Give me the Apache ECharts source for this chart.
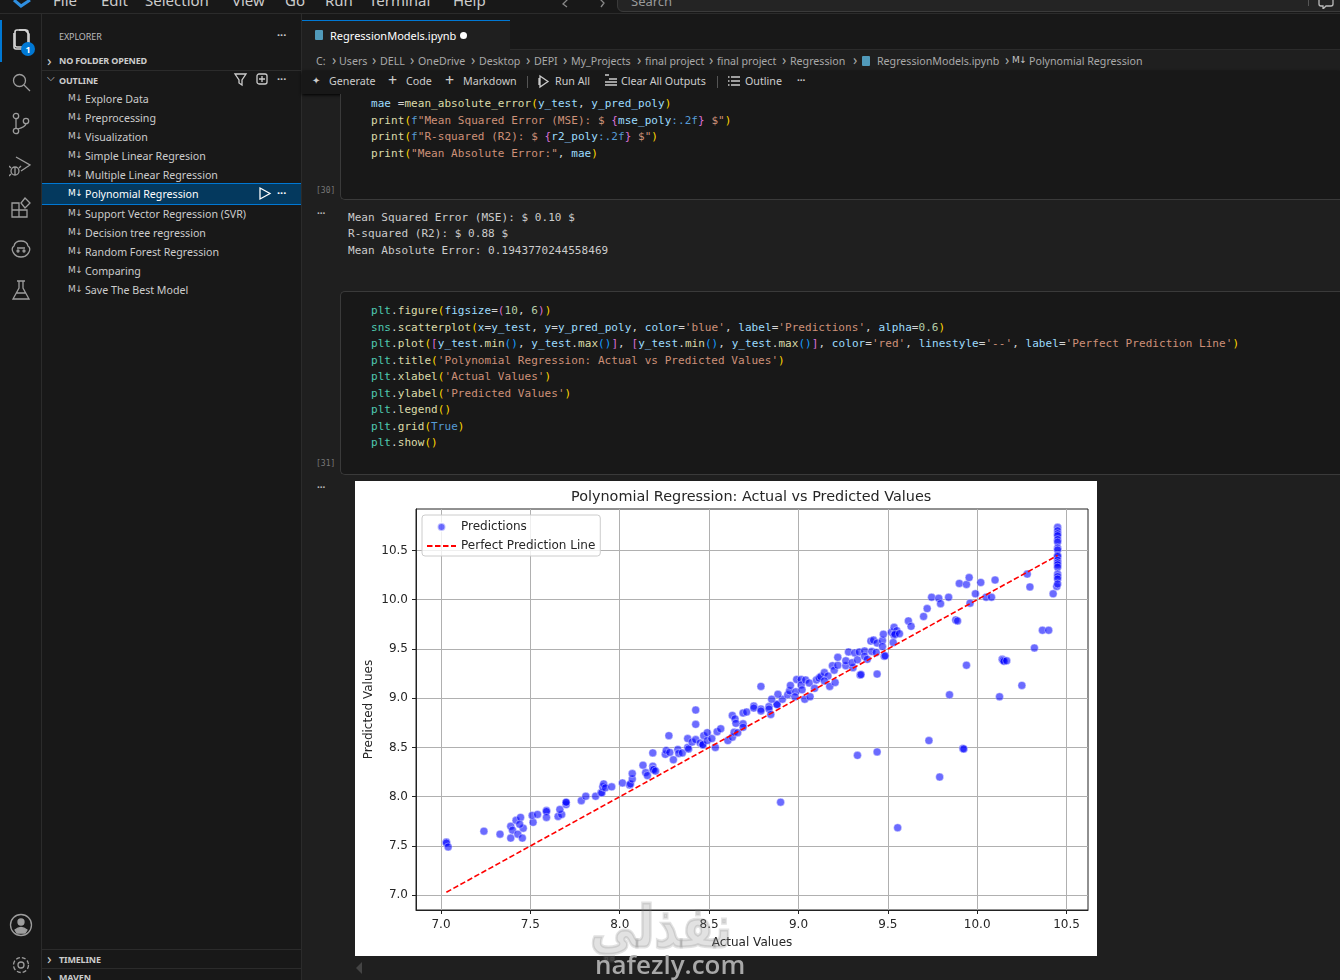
<!DOCTYPE html>
<html><head><meta charset="utf-8"><title>Polynomial Regression</title>
<script src="https://cdn.jsdelivr.net/npm/echarts@6/dist/echarts.min.js"></script>
<style>
html,body{margin:0;padding:0;width:1340px;height:980px;overflow:hidden;background:#1f1f1f;font-family:"Noto Sans",sans-serif;color:#ccc}
.a{position:absolute;white-space:pre;line-height:1}
.b{position:absolute}
.m{font-family:"DejaVu Sans Mono",monospace;font-size:11px;letter-spacing:.05px;white-space:pre;position:absolute;line-height:1}
.o{color:#d4d4d4}.t{color:#4ec9b0}.f{color:#dcdcaa}.v{color:#9cdcfe}.s{color:#ce9178}.g{color:#ffd700}.p{color:#da70d6}.u{color:#179fff}.k{color:#569cd6}.n{color:#b5cea8}
i{font-style:normal}
#chart{position:absolute;left:355px;top:481px;width:742px;height:475px;background:#fff;filter:blur(.35px)}
</style></head><body>
<div id="chrome"></div>
<div id="chart"></div>
<div class="a" style="left:590px;top:882px;font:bold 58px 'DejaVu Sans';-webkit-text-stroke:3px rgba(125,125,125,.22);color:rgba(125,125,125,.22);direction:rtl;line-height:90px;transform:scaleX(.8);transform-origin:0 0;z-index:5">نفذلي</div>
<div class="a" style="left:595px;top:950px;font:600 26px 'Open Sans';color:#a8a8a8;z-index:5;line-height:28px">nafezly.com</div>
<script>
// ---- chart data ----
const chartTitle = 'Polynomial Regression: Actual vs Predicted Values';
const xName = 'Actual Values';
const yName = 'Predicted Values';
const seriesNames = ['Predictions', 'Perfect Prediction Line'];
const xTicks = [7.0, 7.5, 8.0, 8.5, 9.0, 9.5, 10.0, 10.5];
const yTicks = [7.0, 7.5, 8.0, 8.5, 9.0, 9.5, 10.0, 10.5];
const perfectLine = [[7.03, 7.03], [10.45, 10.45]];
const actual = [
7.03,7.03,7.04,7.24,7.33,7.39,7.40,7.39,7.43,7.455,7.46,7.42,7.445,7.44,7.515,7.51,7.54,7.59,7.59,7.59,
7.655,7.675,7.665,7.70,7.70,7.70,7.785,7.81,7.865,7.895,7.90,7.905,7.91,7.92,7.955,8.015,8.055,8.06,8.07,8.07,
8.13,8.145,8.155,8.185,8.185,8.19,8.20,8.185,8.255,8.26,8.28,8.30,8.275,8.325,8.33,8.35,8.38,8.38,8.385,8.405,
8.425,8.425,8.425,8.45,8.465,8.465,8.47,8.49,8.49,8.515,8.535,8.545,8.565,8.605,8.63,8.64,8.63,8.645,8.65,8.66,
8.69,8.69,8.69,8.71,8.75,8.75,8.79,8.79,8.835,8.835,8.845,8.88,8.88,8.90,
8.79,8.91,8.885,8.85,8.94,8.95,8.955,8.985,8.98,8.99,9.015,9.015,9.02,9.035,9.04,9.06,9.065,9.09,9.10,9.115,
9.125,9.145,9.165,9.145,9.175,9.205,9.19,9.20,9.22,9.22,9.265,9.265,9.305,9.30,9.28,9.315,9.33,9.34,9.345,9.35,
9.44,9.37,9.37,9.385,9.41,9.435,9.405,9.42,9.44,9.47,9.475,9.47,9.48,9.485,9.52,9.535,9.55,9.535,9.54,9.565,
9.53,9.615,9.63,9.70,9.72,9.745,9.785,9.795,9.84,9.88,9.89,9.90,9.94,9.955,9.96,9.99,10.02,10.05,10.08,10.10,
10.28,10.295,10.425,10.445,
10.45,10.45,10.45,10.45,10.45,10.45,10.45,10.45,10.45,10.45,10.45,10.45,10.45,10.45,10.45,10.45,10.45,10.45,
9.845,10.125,10.25,9.94,10.14,10.145,10.15,10.165,10.32,10.365,10.40,9.33,9.44,9.73,9.79,9.555,9.92,9.925
];
const predicted = [
7.54,7.53,7.49,7.65,7.62,7.70,7.66,7.58,7.62,7.58,7.68,7.76,7.79,7.72,7.74,7.81,7.82,7.86,7.85,7.79,
7.80,7.82,7.87,7.92,7.94,7.945,7.96,8.005,8.005,8.04,8.04,8.10,8.13,8.09,8.10,8.14,8.12,8.13,8.18,8.235,
8.32,8.245,8.215,8.31,8.28,8.275,8.26,8.445,8.43,8.47,8.45,8.375,8.62,8.48,8.44,8.445,8.59,8.50,8.485,8.555,
8.58,8.735,8.88,8.545,8.525,8.53,8.62,8.57,8.65,8.59,8.50,8.66,8.69,8.57,8.605,8.655,8.825,8.79,8.745,8.65,
8.74,8.705,8.85,8.86,8.92,8.90,8.89,8.87,8.915,8.89,8.835,8.94,8.935,7.945,
9.12,8.99,9.04,8.99,9.035,9.075,9.13,9.065,9.015,9.19,9.19,9.135,9.085,8.99,9.185,9.155,9.015,9.10,9.185,9.205,
9.22,9.26,9.225,9.175,9.12,9.16,9.33,9.285,9.335,9.415,9.33,9.38,9.31,9.36,9.47,9.46,9.39,9.47,9.235,9.24,
9.245,9.48,9.425,9.395,9.475,9.465,9.58,9.59,9.56,9.585,9.65,9.525,9.425,9.43,9.67,9.72,9.685,9.64,9.65,9.655,
9.565,9.785,9.73,9.83,9.91,10.025,10.015,9.96,10.025,9.795,9.785,10.165,10.155,10.225,9.965,10.06,10.175,10.025,10.025,10.20,
10.26,10.13,10.06,10.135,
10.735,10.70,10.67,10.65,10.61,10.585,10.525,10.505,10.45,10.44,10.40,10.375,10.355,10.33,10.26,10.235,10.21,10.16,
9.035,9.015,9.13,9.335,9.395,9.385,9.375,9.38,9.51,9.69,9.69,8.42,8.455,8.57,8.20,7.685,8.49,8.485
];

// ---- surrounding editor window text ----
const menuItems = [['File',53],['Edit',101],['Selection',145],['View',232],['Go',285],['Run',325],['Terminal',369],['Help',453]];
const outlineItems = ['Explore Data','Preprocessing','Visualization','Simple Linear Regresion','Multiple Linear Regression','Polynomial Regression','Support Vector Regression (SVR)','Decision tree regression','Random Forest Regression','Comparing','Save The Best Model'];
const outlineY = [99,118,137,156,175,194,214,233,252,271,290];
const crumbs = [['C:',316],['Users',339],['DELL',380],['OneDrive',418],['Desktop',479],['DEPI',534],['My_Projects',571],['final project',645],['final project',717],['Regression',790],['RegressionModels.ipynb',877],['Polynomial Regression',1029]];
const crumbArrows = [332,372,410,471,526,563,637,709,782,853,1005];
const tools = [['Generate',329],['Code',406],['Markdown',463],['Run All',555],['Clear All Outputs',621],['Outline',745]];
const code1 = [
 ['<i class=v>mae</i> <i class=o>=</i><i class=f>mean_absolute_error</i><i class=g>(</i><i class=v>y_test</i><i class=o>,</i> <i class=v>y_pred_poly</i><i class=g>)</i>',103],
 ['<i class=f>print</i><i class=g>(</i><i class=k>f</i><i class=s>"Mean Squared Error (MSE): $ </i><i class=p>{</i><i class=v>mse_poly</i><i class=k>:.2f</i><i class=p>}</i><i class=s> $"</i><i class=g>)</i>',120],
 ['<i class=f>print</i><i class=g>(</i><i class=k>f</i><i class=s>"R-squared (R2): $ </i><i class=p>{</i><i class=v>r2_poly</i><i class=k>:.2f</i><i class=p>}</i><i class=s> $"</i><i class=g>)</i>',136],
 ['<i class=f>print</i><i class=g>(</i><i class=s>"Mean Absolute Error:"</i><i class=o>,</i> <i class=v>mae</i><i class=g>)</i>',153]];
const out1 = [['Mean Squared Error (MSE): $ 0.10 $',217],['R-squared (R2): $ 0.88 $',233],['Mean Absolute Error: 0.1943770244558469',250]];
const code2 = [
 ['<i class=t>plt</i><i class=o>.</i><i class=f>figure</i><i class=g>(</i><i class=v>figsize</i><i class=o>=</i><i class=p>(</i><i class=n>10</i><i class=o>,</i> <i class=n>6</i><i class=p>)</i><i class=g>)</i>',310],
 ['<i class=t>sns</i><i class=o>.</i><i class=f>scatterplot</i><i class=g>(</i><i class=v>x</i><i class=o>=</i><i class=v>y_test</i><i class=o>,</i> <i class=v>y</i><i class=o>=</i><i class=v>y_pred_poly</i><i class=o>,</i> <i class=v>color</i><i class=o>=</i><i class=s>\'blue\'</i><i class=o>,</i> <i class=v>label</i><i class=o>=</i><i class=s>\'Predictions\'</i><i class=o>,</i> <i class=v>alpha</i><i class=o>=</i><i class=n>0.6</i><i class=g>)</i>',327],
 ['<i class=t>plt</i><i class=o>.</i><i class=f>plot</i><i class=g>(</i><i class=p>[</i><i class=v>y_test</i><i class=o>.</i><i class=f>min</i><i class=u>()</i><i class=o>,</i> <i class=v>y_test</i><i class=o>.</i><i class=f>max</i><i class=u>()</i><i class=p>]</i><i class=o>,</i> <i class=p>[</i><i class=v>y_test</i><i class=o>.</i><i class=f>min</i><i class=u>()</i><i class=o>,</i> <i class=v>y_test</i><i class=o>.</i><i class=f>max</i><i class=u>()</i><i class=p>]</i><i class=o>,</i> <i class=v>color</i><i class=o>=</i><i class=s>\'red\'</i><i class=o>,</i> <i class=v>linestyle</i><i class=o>=</i><i class=s>\'--\'</i><i class=o>,</i> <i class=v>label</i><i class=o>=</i><i class=s>\'Perfect Prediction Line\'</i><i class=g>)</i>',343],
 ['<i class=t>plt</i><i class=o>.</i><i class=f>title</i><i class=g>(</i><i class=s>\'Polynomial Regression: Actual vs Predicted Values\'</i><i class=g>)</i>',360],
 ['<i class=t>plt</i><i class=o>.</i><i class=f>xlabel</i><i class=g>(</i><i class=s>\'Actual Values\'</i><i class=g>)</i>',376],
 ['<i class=t>plt</i><i class=o>.</i><i class=f>ylabel</i><i class=g>(</i><i class=s>\'Predicted Values\'</i><i class=g>)</i>',393],
 ['<i class=t>plt</i><i class=o>.</i><i class=f>legend</i><i class=g>()</i>',409],
 ['<i class=t>plt</i><i class=o>.</i><i class=f>grid</i><i class=g>(</i><i class=k>True</i><i class=g>)</i>',426],
 ['<i class=t>plt</i><i class=o>.</i><i class=f>show</i><i class=g>()</i>',442]];

// ---- build the window around the chart ----
const parts = [];
const box = (x,y,w,h,st) => parts.push(`<div class="b" style="left:${x}px;top:${y}px;width:${w}px;height:${h}px;${st||''}"></div>`);
const txt = (x,y,s,st) => parts.push(`<div class="a" style="left:${x}px;top:${y}px;transform:translateY(-50%);${st||''}">${s}</div>`);
const mono = (x,y,s,st) => parts.push(`<div class="m" style="left:${x}px;top:${y}px;transform:translateY(-50%);${st||''}">${s}</div>`);
const svg = (x,y,w,h,inner,st) => parts.push(`<svg class="b" style="left:${x}px;top:${y}px;${st||''}" width="${w}" height="${h}" viewBox="0 0 ${w} ${h}" fill="none" stroke="#9d9d9d" stroke-width="1.3">${inner}</svg>`);

box(0,0,1340,13,'background:#181818');
box(0,13,1340,1,'background:#2b2b2b');
menuItems.forEach(m => txt(m[1],0,m[0],'font-size:15px;color:#ccc'));
svg(12,0,22,8,'<path d="M2 0 L9 6 L18 0 L18 0" stroke="#2f8fe0" stroke-width="3"/>');
svg(556,0,50,8,'<path d="M12 -1 L7 4 L11 7 M44 -1 L48 3 L45 7" stroke="#888"/>');
box(617,-10,760,22,'background:#242424;border:1px solid #3a3a3a;border-radius:6px;box-sizing:border-box');
txt(631,1,'Search','font-size:13px;color:#9a9a9a');
box(1308,0,1,6,'background:#555');
svg(1317,0,20,9,'<path d="M2 0 L2 4 Q2 6 4 6 L6 6 L6 9 L9 6 L14 6 Q16 6 16 4 L16 0" stroke="#bbb"/>');

// activity bar + sidebar
box(0,14,41,966,'background:#181818');
box(41,14,1,966,'background:#2b2b2b');
box(42,14,260,966,'background:#181818');
box(301,14,1,966,'background:#2b2b2b');
box(0,20,2,42,'background:#0078d4');
svg(11,28,20,24,'<path d="M8 2 h6 l4 4 v12 h-5 M3 5 v14 a2 2 0 0 0 2 2 h6" stroke="#d7d7d7" stroke-width="1.6"/><rect x="4" y="2" width="13" height="17" rx="2" stroke="#d7d7d7" stroke-width="1.6"/>');
box(21,42,14,14,'background:#0078d4;border-radius:50%');
txt(25.5,49,'1','font-size:9px;color:#fff;font-weight:700');
svg(11,72,20,22,'<circle cx="8.5" cy="8.5" r="6"/><path d="M13 13 L19 19"/>');
svg(11,112,20,24,'<circle cx="5" cy="4" r="2.7"/><circle cx="5" cy="19" r="2.7"/><circle cx="15" cy="9" r="2.7"/><path d="M5 7 V16 M15 12 Q14 15 7 17"/>');
svg(9,155,22,24,'<path d="M7 2 L21 10 L12 16"/><circle cx="6" cy="16" r="4"/><path d="M2 13 L0 11 M2 19 L0 21 M10 13 L12 11 M6 12 V20"/>');
svg(11,197,21,21,'<path d="M1 6 H8 V20 H1 Z M8 13 H16 V20 H8 M1 13 H8"/><path d="M14 1 L19 6 L14 11 L10 6 Z"/>');
svg(9,238,23,22,'<path d="M5 8 Q6 3 12 3 Q18 3 19 8 Q22 10 20 14 Q18 19 12 19 Q6 19 4 14 Q2 10 5 8 Z M8 10 H16"/><circle cx="9" cy="13" r="1"/><circle cx="15" cy="13" r="1"/>');
svg(11,280,20,21,'<path d="M6 1 H14 M8 1 V8 L2 19 H18 L12 8 V1 M5 13 H15"/>');
svg(9,913,24,24,'<circle cx="12" cy="12" r="10.5"/><circle cx="12" cy="9" r="3" fill="#9d9d9d"/><path d="M6 17 Q12 12 18 17 L16 20 H8 Z" fill="#9d9d9d"/>');
svg(11,955,20,20,'<circle cx="10" cy="10" r="3"/><circle cx="10" cy="10" r="7.5" stroke-dasharray="4 2"/>');

txt(59,36,'EXPLORER','font-size:9px;color:#bbb;letter-spacing:-.1px');
txt(277,34,'···','font-size:11px;font-weight:700;color:#ccc');
txt(47,60,'›','font-size:15px;color:#ccc');
txt(59,60,'NO FOLDER OPENED','font-size:9px;font-weight:700;color:#ccc;letter-spacing:-.15px');
box(42,70,259,1,'background:#2b2b2b');
txt(47,78,'⌵','font-size:10px;color:#ccc;font-family:\'DejaVu Sans\'');
txt(59,80,'OUTLINE','font-size:9px;font-weight:700;color:#ccc;letter-spacing:-.15px');
svg(233,72,15,15,'<path d="M2 2 H13 L9 8 V13 L6 11 V8 Z" stroke="#ccc"/>');
svg(255,72,15,15,'<rect x="2" y="2" width="10" height="10" rx="2" stroke="#ccc"/><path d="M7 4 V10 M4 7 H10" stroke="#ccc"/>');
txt(277,78,'···','font-size:11px;font-weight:700;color:#ccc');
box(42,183,259,22,'background:#04395e;border-top:1px solid #0078d4;border-bottom:1px solid #0078d4;box-sizing:border-box');
outlineItems.forEach((s,i) => {
  const sel = i === 5;
  txt(68,outlineY[i]-1,'M↓','font-size:9px;font-weight:400;color:'+(sel?'#fff':'#c5c5c5')+';letter-spacing:-.5px;font-family:\'DejaVu Sans\'');
  txt(85,outlineY[i],s,'font-size:10.65px;color:'+(sel?'#fff':'#ccc'));
});
svg(258,186,14,15,'<path d="M2 2 L12 7.5 L2 13 Z" stroke="#fff"/>');
txt(277,192,'···','font-size:11px;font-weight:700;color:#fff');
box(42,949,259,1,'background:#2b2b2b');
box(42,968,259,1,'background:#2b2b2b');
txt(47,958,'›','font-size:15px;color:#ccc');
txt(59,959,'TIMELINE','font-size:9px;font-weight:700;color:#ccc;letter-spacing:-.15px');
txt(47,977,'›','font-size:15px;color:#ccc');
txt(59,977,'MAVEN','font-size:9px;font-weight:700;color:#ccc;letter-spacing:-.15px');

// tabs, breadcrumb, toolbar
box(302,14,1038,35,'background:#181818');
box(302,20,208,29,'background:#1f1f1f;border-top:1px solid #0078d4;box-sizing:border-box');
box(510,49,830,1,'background:#2b2b2b');
box(315,30,8,10,'background:#519aba;border-radius:1px');
txt(330,35,'RegressionModels.ipynb','font-size:11px;color:#fff');
box(460,32,7,7,'background:#fff;border-radius:50%');
crumbs.forEach(c => txt(c[1],61,c[0],'font-size:10.65px;color:#a9a9a9'));
crumbArrows.forEach(x => txt(x,60,'›','font-size:14px;color:#a9a9a9'));
box(862,56,8,10,'background:#519aba;border-radius:1px');
txt(1012,60,'M↓','font-size:9px;font-weight:400;color:#c5c5c5;letter-spacing:-.5px;font-family:\'DejaVu Sans\'');
box(302,71,1038,23,'background:#181818;box-shadow:0 1px 3px #000');
tools.forEach(c => txt(c[1],81,c[0],'font-size:10.7px;color:#ccc'));
txt(312,81,'✦','font-size:10px;color:#ccc;font-family:\'DejaVu Sans\'');
txt(388,80,'+','font-size:16px;color:#ccc');
txt(445,80,'+','font-size:16px;color:#ccc');
box(527,76,1,12,'background:#555');
svg(537,74,13,15,'<path d="M3 2 L11 7.5 L3 13 Z M2 4 V11" stroke="#ccc"/>');
svg(604,73,14,14,'<path d="M1 2 L5 2 M5 6 H13 M1 9 H13 M1 12 H13" stroke="#ccc"/>');
box(717,76,1,12,'background:#555');
svg(728,75,12,12,'<path d="M3 2 H12 M3 6 H12 M3 10 H12 M0 2 H1.5 M0 6 H1.5 M0 10 H1.5" stroke="#ccc"/>');
txt(797,80,'···','font-size:10px;font-weight:700;color:#ccc');

// cells
box(340,94,1000,106,'background:#181818;border-left:1px solid #3a3a3a;border-bottom:1px solid #3a3a3a;border-bottom-left-radius:5px;box-sizing:border-box');
box(340,291,1000,184,'background:#181818;border:1px solid #3a3a3a;border-right:0;border-radius:5px 0 0 5px;box-sizing:border-box');
code1.forEach(l => mono(371,l[1],l[0]));
out1.forEach(l => mono(348,l[1],l[0],'color:#ccc'));
code2.forEach(l => mono(371,l[1],l[0]));
mono(316,191,'[30]','font-size:8px;color:#777');
mono(316,464,'[31]','font-size:8px;color:#777');
txt(317,213,'···','font-size:10px;font-weight:700;color:#bbb');
txt(317,487,'···','font-size:10px;font-weight:700;color:#bbb');
svg(353,960,12,16,'<path d="M9 2 L3 8 L9 14 Z" fill="#444" stroke="none"/>');
document.getElementById('chrome').innerHTML = parts.join('');

// ---- the chart ----
const FONT = '"DejaVu Sans"';
const scatterData = actual.map((x,i) => [x, predicted[i]]);
const chart = echarts.init(document.getElementById('chart'), null, {renderer:'canvas'});
const axisBase = {
  type:'value', scale:true,
  axisLine:{show:true, onZero:false, lineStyle:{color:'#222', width:1}},
  axisTick:{show:true, length:4, lineStyle:{color:'#222', width:1}},
  splitLine:{show:true, lineStyle:{color:'#b0b0b0', width:1}},
  minorSplitLine:{show:false},
  nameLocation:'middle',
  nameMoveOverlap:false,
  nameTextStyle:{fontFamily:FONT, fontSize:12, color:'#262626'}
};
chart.setOption({
  animation:false,
  backgroundColor:'#fff',
  title:{text:chartTitle, left:216, top:9, padding:0, textStyle:{fontFamily:FONT, fontSize:14.4, fontWeight:'normal', color:'#262626'}},
  grid:{left:61, top:28, width:672, height:401, show:true, outerBoundsMode:'none', containLabel:false, borderColor:'#222', borderWidth:1, backgroundColor:'transparent'},
  legend:{
    orient:'vertical', left:67, top:34, padding:[6,5,4,4], itemGap:7, itemWidth:29, itemHeight:8,
    backgroundColor:'rgba(255,255,255,.8)', borderColor:'#ccc', borderWidth:1, borderRadius:3,
    textStyle:{fontFamily:FONT, fontSize:12, color:'#262626'},
    data:[{name:seriesNames[0], icon:'circle'},{name:seriesNames[1], itemStyle:{opacity:0}}]
  },
  xAxis:Object.assign({}, axisBase, {
    min:6.86, max:10.62, name:xName, nameGap:27,
    axisLabel:{customValues:xTicks, formatter:v=>v.toFixed(1), fontFamily:FONT, fontSize:12, color:'#262626', margin:9},
    axisTick:Object.assign({}, axisBase.axisTick, {customValues:xTicks})
  }),
  yAxis:Object.assign({}, axisBase, {
    min:6.85, max:10.921, name:yName, nameGap:41,
    axisLabel:{customValues:yTicks, formatter:v=>v.toFixed(1), fontFamily:FONT, fontSize:12, color:'#262626', margin:8},
    axisTick:Object.assign({}, axisBase.axisTick, {customValues:yTicks})
  }),
  series:[
    {name:seriesNames[0], type:'scatter', data:scatterData, symbol:'circle', symbolSize:8, z:3,
     itemStyle:{color:'#0000ff', opacity:.58, borderColor:'#fff', borderWidth:.7}},
    {name:seriesNames[1], type:'line', data:perfectLine, showSymbol:false, symbol:'none', z:4,
     lineStyle:{color:'#ff0000', width:1.6, type:[5.5,2.5]}, itemStyle:{color:'#ff0000'}}
  ]
});
</script>
</body></html>
